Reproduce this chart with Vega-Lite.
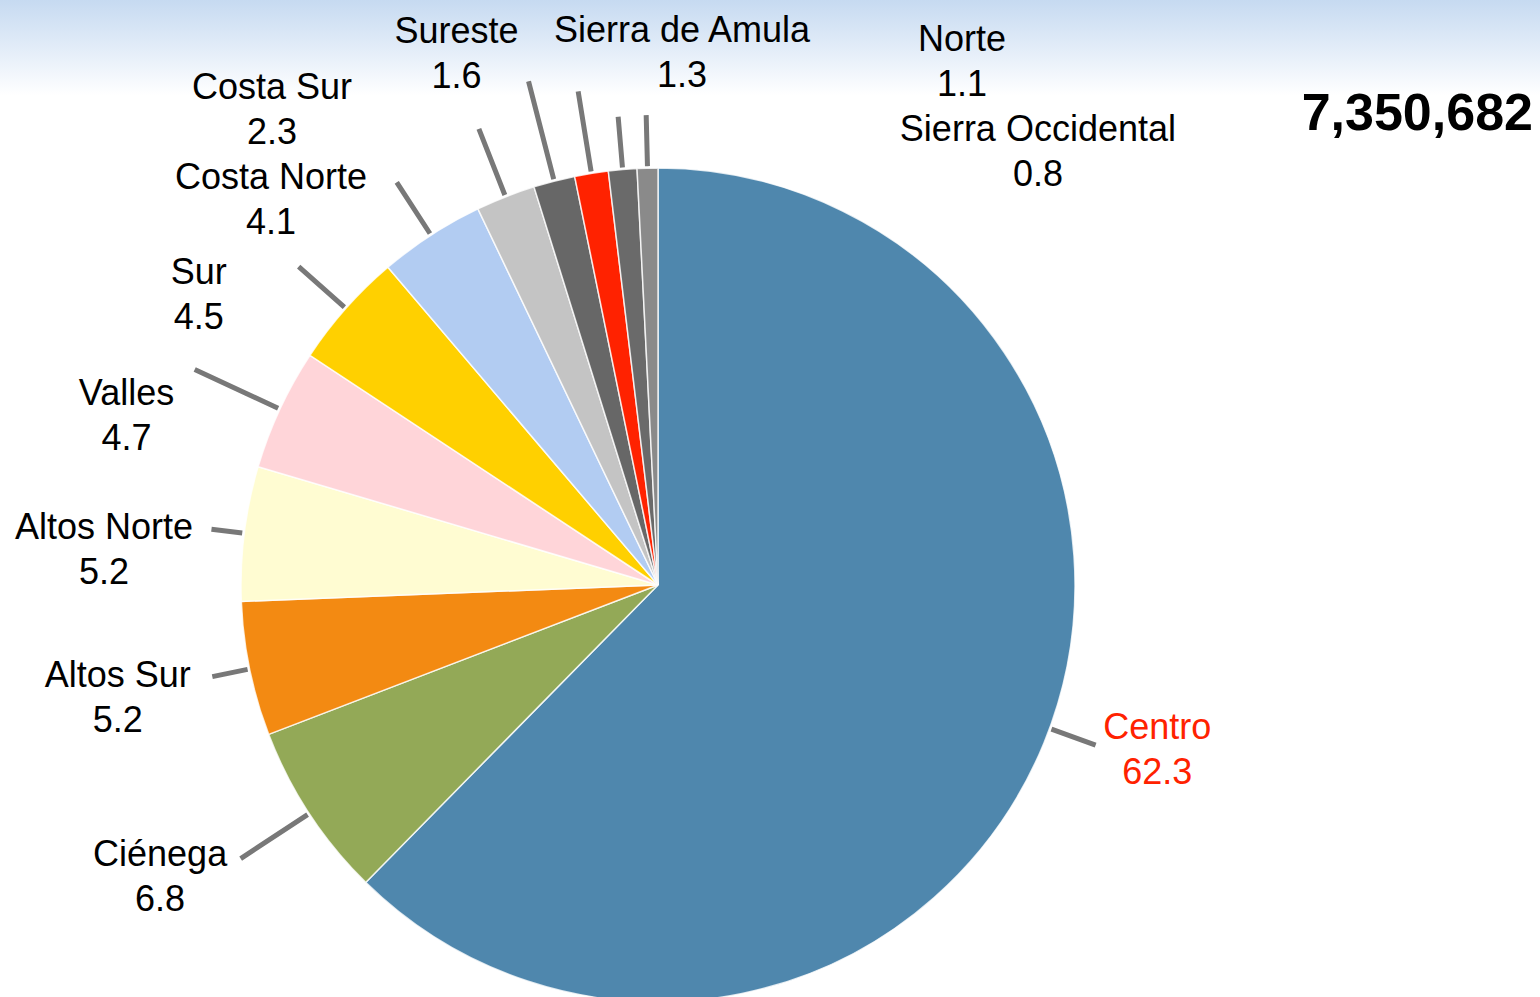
{
  "$schema": "https://vega.github.io/schema/vega-lite/v6.json",
  "width": 1316,
  "height": 824,
  "autosize": {"type": "none"},
  "padding": {"left": 0, "top": 173, "right": 224, "bottom": 0},
  "background": "#ffffff",
  "config": {"view": {"stroke": null}, "font": "Liberation Sans"},
  "title": {
    "text": "7,350,682",
    "orient": "top",
    "anchor": "end",
    "frame": "group",
    "font": "Liberation Sans",
    "fontSize": 52,
    "fontWeight": "bold",
    "color": "#000000",
    "baseline": "alphabetic",
    "offset": -797,
    "dx": 217
  },
  "datasets": {
    "regions": [
      {"region": "Centro", "pct": 62.3},
      {"region": "Ciénega", "pct": 6.8},
      {"region": "Altos Sur", "pct": 5.2},
      {"region": "Altos Norte", "pct": 5.2},
      {"region": "Valles", "pct": 4.7},
      {"region": "Sur", "pct": 4.5},
      {"region": "Costa Norte", "pct": 4.1},
      {"region": "Costa Sur", "pct": 2.3},
      {"region": "Sureste", "pct": 1.6},
      {"region": "Sierra de Amula", "pct": 1.3},
      {"region": "Norte", "pct": 1.1},
      {"region": "Sierra Occidental", "pct": 0.8}
    ]
  },
  "layer": [
    {
      "data": {"values": [{"bg": 1}]},
      "mark": {
        "type": "arc",
        "theta": 0,
        "theta2": 6.2832,
        "outerRadius": 1200,
        "fill": {
          "gradient": "linear",
          "x1": 0, "y1": 0, "x2": 0, "y2": 1,
          "stops": [
            {"offset": 0, "color": "#c6daf1"},
            {"offset": 0.2562, "color": "#c6daf1"},
            {"offset": 0.276, "color": "#e2ecf8"},
            {"offset": 0.296, "color": "#ffffff"},
            {"offset": 1, "color": "#ffffff"}
          ]
        },
        "strokeWidth": 0
      },
      "encoding": {}
    },
    {
      "data": {"name": "regions"},
      "mark": {"type": "arc", "outerRadius": 417, "stroke": "#ffffff", "strokeWidth": 1.5, "strokeOpacity": 0.8},
      "encoding": {
        "theta": {"field": "pct", "type": "quantitative", "stack": true},
        "order": {"field": "pct", "sort": "descending"},
        "color": {
          "field": "region",
          "type": "nominal",
          "legend": null,
          "scale": {
            "domain": ["Centro", "Ciénega", "Altos Sur", "Altos Norte", "Valles", "Sur", "Costa Norte", "Costa Sur", "Sureste", "Sierra de Amula", "Norte", "Sierra Occidental"],
            "range": ["#4f87ad", "#93a957", "#f38a12", "#fffcd2", "#ffd5d9", "#ffd000", "#b2ccf2", "#c4c4c4", "#676767", "#ff2200", "#6a6a6a", "#8a8a8a"]
          }
        }
      }
    },
    {
      "data": {"name": "regions"},
      "mark": {
        "type": "arc",
        "innerRadius": 419,
        "outerRadius": {"expr": "[462,499,455,450,511,480,480,490,520,500,470,470][indexof(['Centro','Ciénega','Altos Sur','Altos Norte','Valles','Sur','Costa Norte','Costa Sur','Sureste','Sierra de Amula','Norte','Sierra Occidental'], datum.region)]"},
        "padAngle": 3.1416,
        "filled": false,
        "stroke": "#787878",
        "strokeWidth": 5
      },
      "encoding": {
        "theta": {"field": "pct", "type": "quantitative", "stack": true},
        "order": {"field": "pct", "sort": "descending"},
        "detail": {"field": "region", "type": "nominal"},
        "strokeOpacity": {"condition": {"test": "datum.region === 'Centro'", "value": 0}, "value": 1}
      }
    },
    {
      "data": {"name": "regions"},
      "transform": [
        {"stack": "pct", "groupby": [], "sort": [{"field": "pct", "order": "descending"}], "as": ["pct_s0", "pct_s1"]},
        {"filter": "datum.region === 'Centro'"}
      ],
      "mark": {
        "type": "arc",
        "innerRadius": 419,
        "outerRadius": 466,
        "padAngle": 3.1416,
        "thetaOffset": 1.9099,
        "theta2Offset": -1.9848,
        "filled": false,
        "stroke": "#787878",
        "strokeWidth": 5
      },
      "encoding": {
        "theta": {"field": "pct_s0", "type": "quantitative"},
        "theta2": {"field": "pct_s1"}
      }
    },
    {
      "data": {"name": "regions"},
      "mark": {
        "type": "text",
        "radius": 520,
        "font": "Liberation Sans",
        "fontSize": 36,
        "align": "center",
        "baseline": "middle",
        "dx": {"expr": "[18,-63,-31,-38,-60,-70,-104,-196,-72,107,348,393][indexof(['Centro','Ciénega','Altos Sur','Altos Norte','Valles','Sur','Costa Norte','Costa Sur','Sureste','Sierra de Amula','Norte','Sierra Occidental'], datum.region)]"},
        "dy": {"expr": "[-54,-15,-14,7,28,33,29,-13,-49,-41,-27,65][indexof(['Centro','Ciénega','Altos Sur','Altos Norte','Valles','Sur','Costa Norte','Costa Sur','Sureste','Sierra de Amula','Norte','Sierra Occidental'], datum.region)]"}
      },
      "encoding": {
        "theta": {"field": "pct", "type": "quantitative", "stack": true},
        "order": {"field": "pct", "sort": "descending"},
        "detail": {"field": "region", "type": "nominal"},
        "text": {"field": "region", "type": "nominal"},
        "color": {"condition": {"test": "datum.region === 'Centro'", "value": "#ff2200"}, "value": "#000000"}
      }
    },
    {
      "data": {"name": "regions"},
      "mark": {
        "type": "text",
        "radius": 520,
        "font": "Liberation Sans",
        "fontSize": 36,
        "align": "center",
        "baseline": "middle",
        "dx": {"expr": "[18,-63,-31,-38,-60,-70,-104,-196,-72,107,348,393][indexof(['Centro','Ciénega','Altos Sur','Altos Norte','Valles','Sur','Costa Norte','Costa Sur','Sureste','Sierra de Amula','Norte','Sierra Occidental'], datum.region)]"},
        "dy": {"expr": "[-9,30,31,52,73,78,74,32,-4,4,18,110][indexof(['Centro','Ciénega','Altos Sur','Altos Norte','Valles','Sur','Costa Norte','Costa Sur','Sureste','Sierra de Amula','Norte','Sierra Occidental'], datum.region)]"}
      },
      "encoding": {
        "theta": {"field": "pct", "type": "quantitative", "stack": true},
        "order": {"field": "pct", "sort": "descending"},
        "detail": {"field": "region", "type": "nominal"},
        "text": {"field": "pct", "type": "quantitative", "format": ".1f"},
        "color": {"condition": {"test": "datum.region === 'Centro'", "value": "#ff2200"}, "value": "#000000"}
      }
    }
  ]
}
